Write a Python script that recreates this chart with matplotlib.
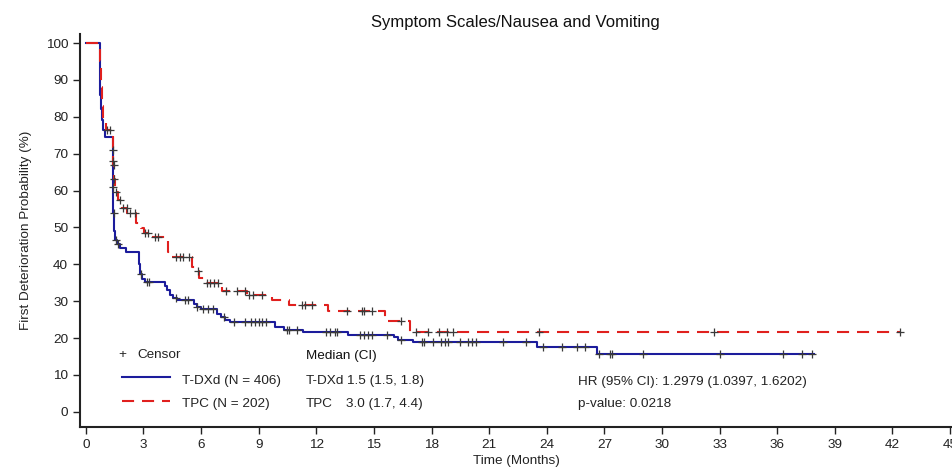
import numpy as np
import matplotlib.pyplot as plt

plt.rcParams['font.family'] = ['Liberation Sans', 'DejaVu Sans']

# T-DXd: step times (months) and probability (%) after each step
tdxd_t = [0, 0.72, 0.76, 0.80, 0.85, 0.92, 1.00, 1.40, 1.42, 1.44, 1.47, 1.52, 1.62,
          1.80, 2.10, 2.76, 2.82, 2.95, 3.10, 4.10, 4.25, 4.40, 4.55, 4.75, 5.65,
          5.80, 6.00, 6.85, 7.05, 7.25, 7.50, 9.85, 10.3, 11.3, 13.65, 16.05, 16.25,
          17.05, 23.5, 26.6]
tdxd_s = [100, 92, 86, 82, 79, 76.5, 74.5, 68, 61, 54, 49, 46.5, 45.5,
          44.5, 43.3, 40, 37.5, 36.0, 35.3, 34.0, 33.0, 31.8, 31.0, 30.4, 29.2,
          28.4, 27.8, 26.6, 25.6, 24.8, 24.3, 23.1, 22.2, 21.6, 20.9, 20.2, 19.5,
          18.9, 17.5, 15.8]
tdxd_end = 37.9
tdxd_cens = [1.41, 1.43, 1.45, 1.55, 1.7, 2.9, 3.2, 3.3, 4.7, 5.15, 5.3, 5.8, 6.1, 6.35,
             6.6, 7.2, 7.7, 8.3, 8.6, 8.8, 9.0, 9.2, 9.4, 10.5, 10.6, 11.0, 12.5, 12.7,
             13.0, 13.1, 14.3, 14.5, 14.7, 14.9, 15.7, 16.4, 17.5, 17.6, 18.1, 18.5, 18.7,
             18.85, 19.5, 19.9, 20.1, 20.3, 21.7, 22.9, 23.8, 24.8, 25.6, 26.0, 26.7,
             27.3, 27.4, 29.0, 33.0, 36.3, 37.3, 37.8]

# TPC
tpc_t = [0, 0.75, 0.80, 0.85, 0.92, 1.05, 1.42, 1.44, 1.46, 1.50, 1.60, 1.70, 1.90,
         2.15, 2.62, 2.85, 3.05, 3.40, 4.28, 4.45, 5.55, 5.80, 5.90, 6.25, 7.10,
         8.40, 9.70, 10.6, 12.6, 15.6, 16.9]
tpc_s = [100, 95, 88, 83, 79, 76.5, 71, 67, 63, 61, 59.6, 57.5, 55.3,
         54.0, 51.2, 49.9, 48.6, 47.5, 43.4, 42.1, 39.4, 38.2, 36.2, 34.9, 32.9,
         31.7, 30.3, 29.0, 27.4, 24.6, 21.7]
tpc_end = 42.4
tpc_cens = [1.1, 1.25, 1.43, 1.45, 1.48, 1.6, 1.77, 1.93, 2.13, 2.3, 2.55, 3.07, 3.23,
            3.6, 3.75, 4.7, 4.9, 5.05, 5.4, 5.85, 6.3, 6.45, 6.7, 6.9, 7.3, 7.85, 8.3,
            8.5, 8.7, 9.2, 11.25, 11.4, 11.8, 13.6, 14.4, 14.5, 14.9, 16.4, 17.2, 17.8,
            18.4, 18.8, 19.1, 23.6, 32.7, 42.4]

BLUE = '#1c1c9c'
RED = '#e0201e'
CENS = '#3a3a3a'
TXT = '#222222'
FS = 9.7


def surv_at(t, s, times):
    idx = np.searchsorted(t, times, side='right') - 1
    return np.array(s)[idx]


fig = plt.figure(figsize=(9.53, 4.70), dpi=100)
ax = fig.add_axes([80 / 953, 43 / 470, 873 / 953, 393.2 / 470])

for t, s, end, cens, col, ls in [(tdxd_t, tdxd_s, tdxd_end, tdxd_cens, BLUE, '-'),
                                 (tpc_t, tpc_s, tpc_end, tpc_cens, RED, '--')]:
    tt = list(t) + [end]
    ss = list(s) + [s[-1]]
    ln, = ax.step(tt, ss, where='post', color=col, lw=1.5, ls=ls, zorder=3)
    if ls == '--':
        ln.set_dashes([5.8, 3.8])
    ax.plot(cens, surv_at(t, s, cens), ls='none', marker='+', ms=6, mew=0.9,
            color=CENS, zorder=4)

ax.set_xlim(-0.3, 45.15)
ax.set_ylim(-4.1, 102.5)
ax.set_xticks(np.arange(0, 46, 3))
ax.set_yticks(np.arange(0, 101, 10))
ax.tick_params(labelsize=FS, length=5, width=1, direction='out', colors=TXT)
for side in ['top', 'right']:
    ax.spines[side].set_visible(False)
for side in ['left', 'bottom']:
    ax.spines[side].set_linewidth(1.5)
    ax.spines[side].set_color(TXT)

ax.set_xlabel('Time (Months)', fontsize=FS, color=TXT, labelpad=3)
ax.set_ylabel('First Deterioration Probability (%)', fontsize=FS, color=TXT, labelpad=10)
ax.set_title('Symptom Scales/Nausea and Vomiting', fontsize=12, color='#111111', pad=5,
             x=(515 - 80) / 873)


# legend block (pixel positions -> axes fraction)
def fx(px):
    return (px - 80) / 873


def fy(py):
    return (427 - py) / 393.2


tr = ax.transAxes
ax.text(fx(122), fy(355), '+', transform=tr, fontsize=FS, ha='center', va='center', color=TXT)
ax.text(fx(137), fy(355), 'Censor', transform=tr, fontsize=FS, va='center', color=TXT)
ax.plot([fx(122), fx(170)], [fy(377), fy(377)], transform=tr, color=BLUE, lw=1.5)
lr, = ax.plot([fx(122), fx(170)], [fy(401), fy(401)], transform=tr, color=RED, lw=1.5, ls='--')
lr.set_dashes([5.8, 3.8])
ax.text(fx(182), fy(381), 'T-DXd (N = 406)', transform=tr, fontsize=FS, va='center', color=TXT)
ax.text(fx(182), fy(404), 'TPC (N = 202)', transform=tr, fontsize=FS, va='center', color=TXT)
ax.text(fx(306), fy(356), 'Median (CI)', transform=tr, fontsize=FS, va='center', color='#111111')
ax.text(fx(306), fy(381), 'T-DXd', transform=tr, fontsize=FS, va='center', color=TXT)
ax.text(fx(347), fy(381), '1.5 (1.5, 1.8)', transform=tr, fontsize=FS, va='center', color=TXT)
ax.text(fx(306), fy(404), 'TPC', transform=tr, fontsize=FS, va='center', color=TXT)
ax.text(fx(346), fy(404), '3.0 (1.7, 4.4)', transform=tr, fontsize=FS, va='center', color=TXT)
ax.text(fx(578), fy(382), 'HR (95% CI): 1.2979 (1.0397, 1.6202)', transform=tr, fontsize=FS,
        va='center', color=TXT)
ax.text(fx(578), fy(404), 'p-value: 0.0218', transform=tr, fontsize=FS, va='center', color=TXT)

fig.savefig('out.png', dpi=100)
